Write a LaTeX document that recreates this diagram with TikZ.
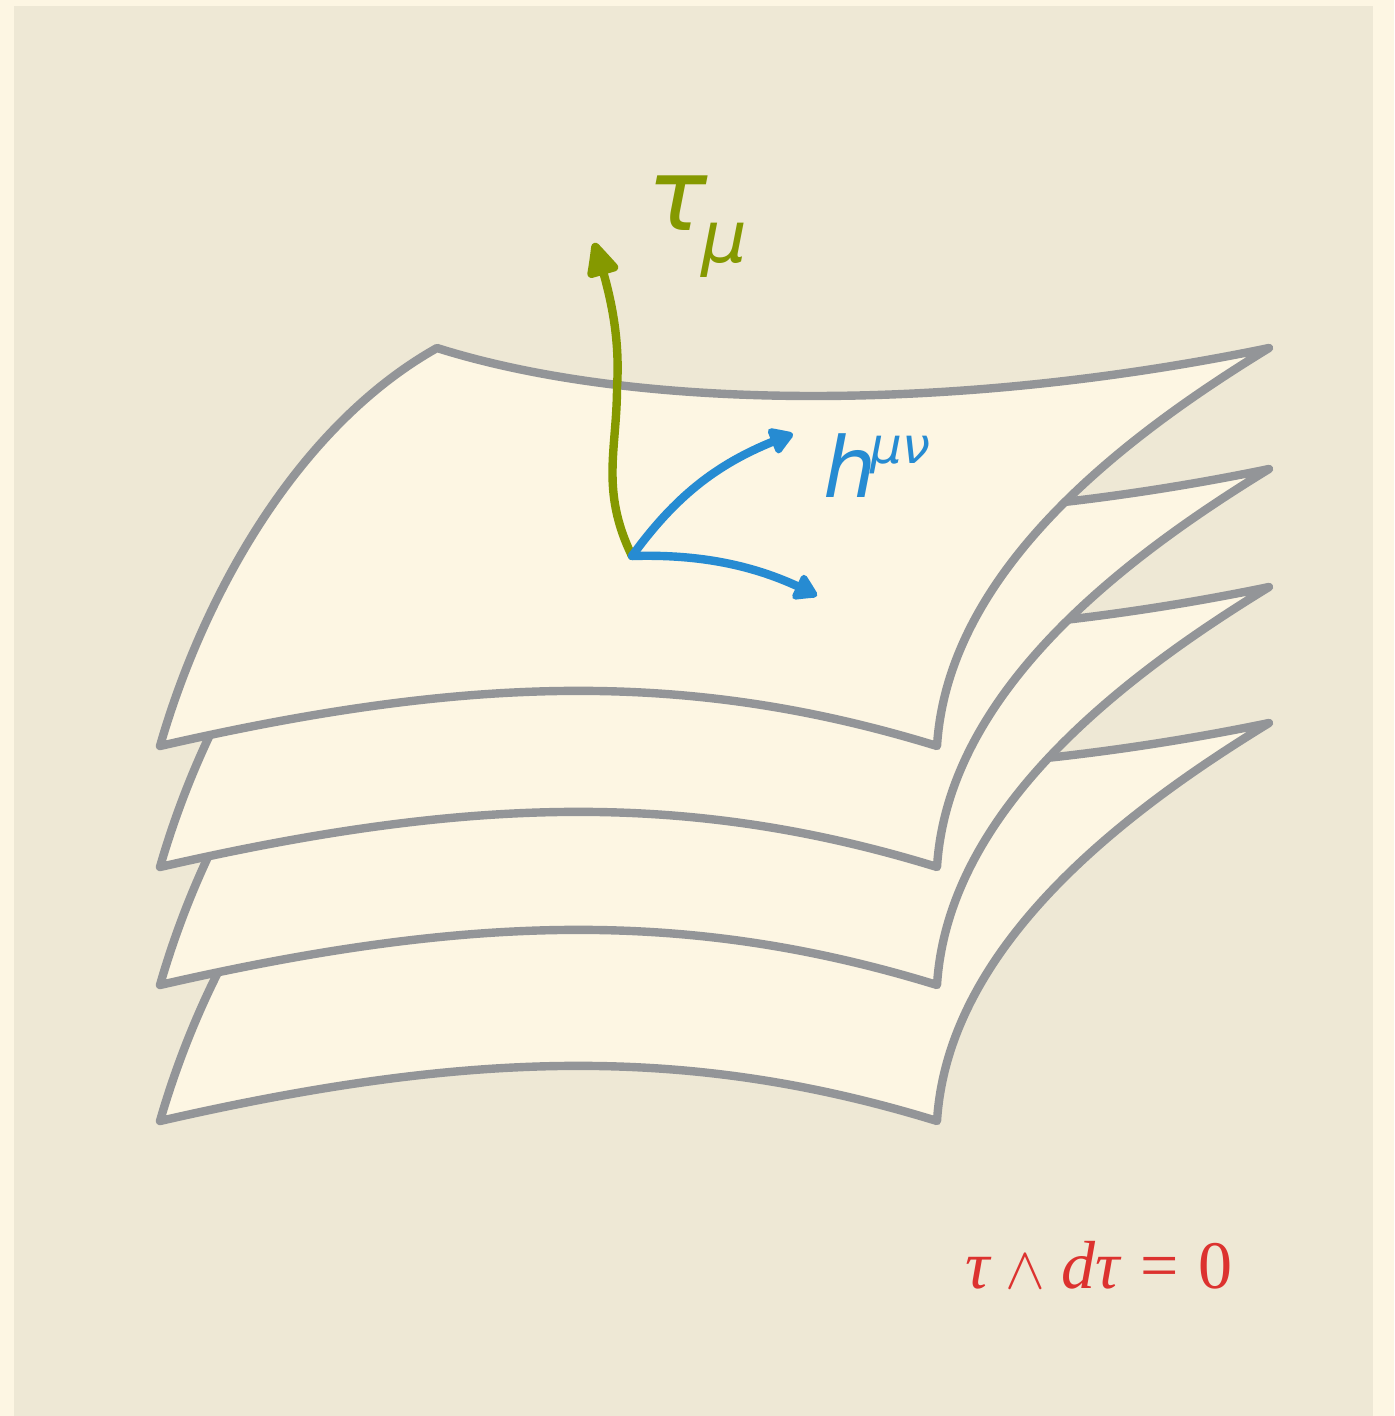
\documentclass[tikz,border=0pt]{standalone}
\usepackage{graphicx}
\usepackage{fontspec}
\setmainfont{Liberation Serif}
\newfontfamily\penfont{DejaVu Sans}
\usetikzlibrary{arrows.meta,bending}
\definecolor{outerbg}{HTML}{FDF6E3}
\definecolor{innerbg}{HTML}{EEE8D5}
\definecolor{sheetline}{HTML}{939598}
\definecolor{penGreen}{HTML}{859900}
\definecolor{penBlue}{HTML}{268BD2}
\definecolor{penRed}{HTML}{DC322F}
\tikzset{
  sheet/.style={draw=sheetline,fill=outerbg,line width=4.2pt,line join=round,line cap=round},
  greenarrow/.style={draw=penGreen,line width=4.2pt,line cap=round,-{Triangle[length=20pt,width=17pt,round,bend]}},
  bluearrow/.style={draw=penBlue,line width=4.2pt,line cap=round,-{Triangle[length=13pt,width=15pt,round,bend]}},
  formula/.style={text=penRed,inner sep=0pt,anchor=base west,font=\fontsize{34}{36}\selectfont},
  handgreen/.style={text=penGreen,inner sep=0pt,font=\penfont\itshape\fontsize{50}{52}\selectfont},
  handblue/.style={text=penBlue,inner sep=0pt,font=\penfont\itshape\fontsize{42}{44}\selectfont}
}
\begin{document}
\begin{tikzpicture}[x=0.5pt,y=-0.5pt]
\useasboundingbox (0,0) rectangle (1394,1416);
\fill[outerbg] (0,0) rectangle (1394,1416);
\fill[innerbg] (14,6) rectangle (1373,1416);
\foreach \dy in {375,239,121,0}{
  \path[sheet,yshift=-0.5*\dy pt]
    (437,348)
    .. controls (640,412) and (960,412) .. (1269,348)
    .. controls (1125,436) and (948,570) .. (937,746)
    .. controls (690,670) and (470,675) .. (160,746)
    .. controls (205,590) and (300,425) .. cycle;
}
\coordinate (origin) at (632,556);
\coordinate (greentip) at (594,243);
\coordinate (tipA) at (793,434);
\coordinate (tipB) at (817,596);
\draw[greenarrow] (origin) .. controls (600,490) and (617,450) .. (617,387)
   .. controls (620,340) and (612,295) .. (greentip);
\draw[bluearrow] (origin) .. controls (680,490) and (725,458) .. (tipA);
\draw[bluearrow] (origin) .. controls (700,554) and (760,565) .. (tipB);
\node[handgreen] (taulabel) at (697,227) {τ\hspace{-3pt}\raisebox{-16pt}{\fontsize{36}{38}\selectfont μ}};
\node[handblue] (hlabel) at (877,466) {h\hspace{-3pt}\raisebox{17pt}{\fontsize{25}{27}\selectfont μν}};
\node[formula] (eqn) at (965,1288) {\textit{τ}\hspace{7pt}\scalebox{1.2}{$\wedge$}\hspace{8pt}\textit{dτ}\hspace{9pt}=\hspace{10pt}0};
\end{tikzpicture}
\end{document}
